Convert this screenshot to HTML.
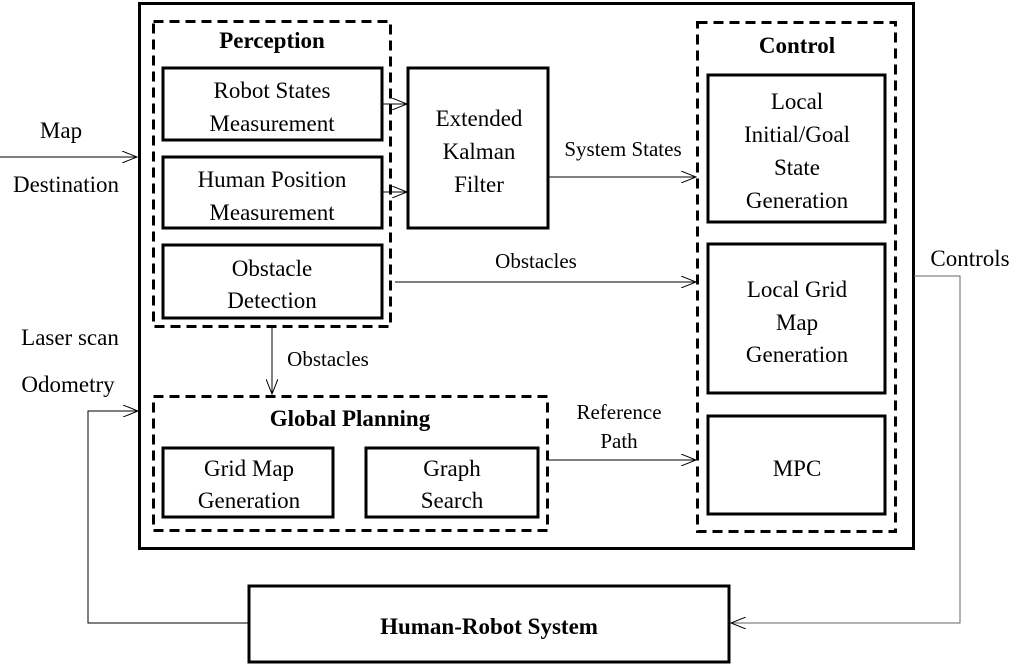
<!DOCTYPE html>
<html><head><style>body{margin:0;background:#fff}svg{display:block}</style></head>
<body>
<svg width="1027" height="666" viewBox="0 0 1027 666">
<defs><marker id="a" markerWidth="16" markerHeight="12" refX="15" refY="6" orient="auto" markerUnits="userSpaceOnUse"><path d="M0,0 L15,6 L0,12" fill="none" stroke="#000" stroke-width="1"/></marker></defs>
<g fill="none" stroke="#000">
<rect x="139.5" y="3.5" width="774" height="545" stroke-width="3"/>
<g stroke-width="3" stroke-dasharray="10,6">
<rect x="153.5" y="21.5" width="237" height="305"/>
<rect x="697.5" y="22.5" width="198" height="509"/>
<rect x="153.5" y="396.5" width="394" height="134"/>
</g>
<g stroke-width="3">
<rect x="163" y="68" width="219" height="72"/>
<rect x="163" y="157" width="219" height="71"/>
<rect x="163" y="245" width="219" height="73"/>
<rect x="408" y="68" width="140" height="160"/>
<rect x="708" y="75" width="177" height="147"/>
<rect x="708" y="244" width="177" height="149"/>
<rect x="708" y="416" width="177" height="98"/>
<rect x="163" y="448" width="170" height="69"/>
<rect x="366" y="448" width="172" height="69"/>
<rect x="249" y="586" width="480" height="76"/>
</g>
<g stroke-width="1">
<line x1="0" y1="157" x2="137" y2="157" marker-end="url(#a)"/>
<line x1="382" y1="104" x2="407" y2="104" marker-end="url(#a)"/>
<line x1="382" y1="192" x2="407" y2="192" marker-end="url(#a)"/>
<line x1="548" y1="177" x2="696" y2="177" marker-end="url(#a)"/>
<line x1="395" y1="282" x2="696" y2="282" marker-end="url(#a)"/>
<line x1="272" y1="327" x2="272" y2="394" marker-end="url(#a)"/>
<line x1="548" y1="460" x2="696" y2="460" marker-end="url(#a)"/>
<polyline points="914,276 960,276 960,623 731,623" marker-end="url(#a)" stroke="#666"/>
<polyline points="248,623 88,623 88,411 138,411" marker-end="url(#a)"/>
</g>
</g>
<g text-anchor="middle" font-family="Liberation Serif, Noto Serif CJK SC, DejaVu Serif, serif" font-size="23" fill="#000">
<text x="272" y="48" font-weight="bold">Perception</text>
<text x="272" y="98">Robot States</text><text x="272" y="131">Measurement</text>
<text x="272" y="187">Human Position</text><text x="272" y="220">Measurement</text>
<text x="272" y="276">Obstacle</text><text x="272" y="308">Detection</text>
<text x="479" y="126">Extended</text><text x="479" y="159">Kalman</text><text x="479" y="192">Filter</text>
<text x="797" y="53" font-weight="bold">Control</text>
<text x="797" y="109">Local</text><text x="797" y="142">Initial/Goal</text><text x="797" y="175">State</text><text x="797" y="208">Generation</text>
<text x="797" y="297">Local Grid</text><text x="797" y="330">Map</text><text x="797" y="362">Generation</text>
<text x="797" y="476">MPC</text>
<text x="350" y="426" font-weight="bold">Global Planning</text>
<text x="249" y="476">Grid Map</text><text x="249" y="508">Generation</text>
<text x="452" y="476">Graph</text><text x="452" y="508">Search</text>
<text x="489" y="634" font-weight="bold">Human-Robot System</text>
<text x="61" y="138">Map</text><text x="66" y="192">Destination</text>
<text x="623" y="156" font-size="21">System States</text>
<text x="536" y="268" font-size="21">Obstacles</text>
<text x="328" y="366" font-size="21">Obstacles</text>
<text x="619" y="419" font-size="21">Reference</text><text x="619" y="448" font-size="21">Path</text>
<text x="70" y="345">Laser scan</text><text x="68" y="392">Odometry</text>
<text x="970" y="266">Controls</text>
</g>
</svg>
</body></html>
